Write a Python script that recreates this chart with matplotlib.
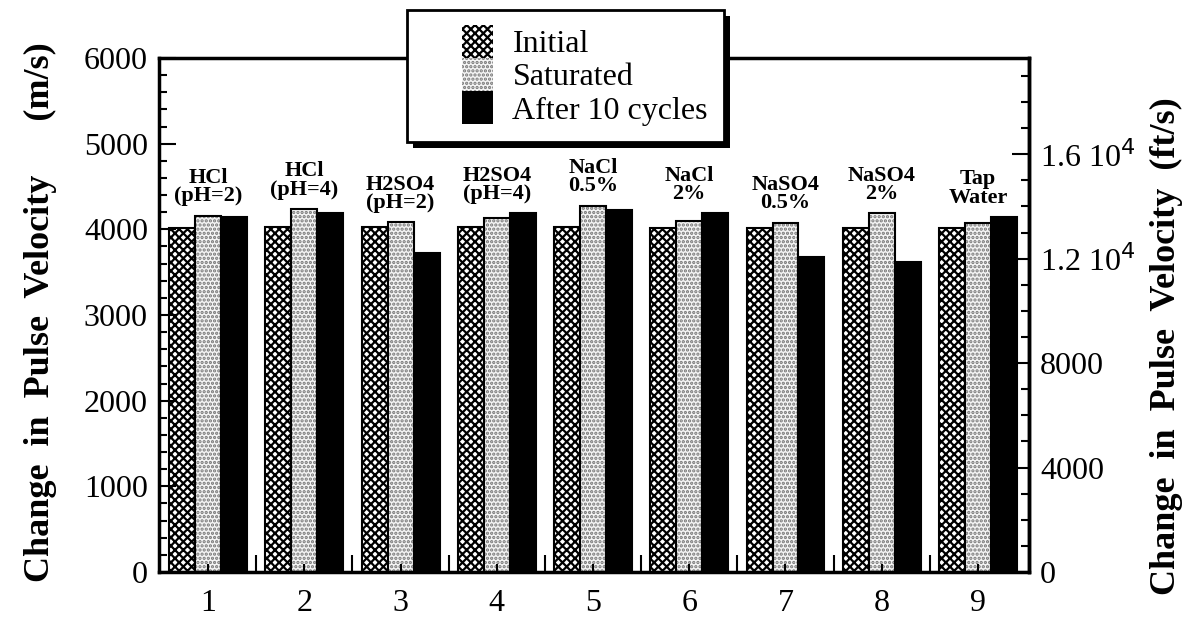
import numpy as np
import matplotlib
matplotlib.use('Agg')
import matplotlib.pyplot as plt
from matplotlib.patches import Patch, Rectangle
from matplotlib.legend_handler import HandlerPatch
from matplotlib.ticker import MultipleLocator, FixedLocator, FuncFormatter

plt.rcParams['font.family'] = ['Liberation Serif', 'DejaVu Serif']
plt.rcParams['hatch.linewidth'] = 1.6

# 数据 (m/s)
groups = [1, 2, 3, 4, 5, 6, 7, 8, 9]
group_labels = ['HCl\n(pH=2)', 'HCl\n(pH=4)', 'H2SO4\n(pH=2)', 'H2SO4\n(pH=4)',
                'NaCl\n0.5%', 'NaCl\n2%', 'NaSO4\n0.5%', 'NaSO4\n2%', 'Tap\nWater']
initial = [4020, 4030, 4030, 4030, 4030, 4020, 4020, 4020, 4020]
saturated = [4160, 4235, 4080, 4130, 4275, 4100, 4075, 4185, 4075]
after10 = [4140, 4190, 3720, 4185, 4225, 4185, 3680, 3620, 4140]
series_names = ['Initial', 'Saturated', 'After 10 cycles']

M2FT = 3.2808

fig = plt.figure(figsize=(11.99, 6.26), dpi=100)
ax = fig.add_axes([0.1326, 0.0863, 0.7256, 0.8211])

x = np.array(groups, dtype=float)
w = 0.27

# Initial: 交叉网格
ax.bar(x - w, initial, w, facecolor='white', edgecolor='black', hatch='xxxx', linewidth=0)
ax.bar(x - w, initial, w, fill=False, edgecolor='black', linewidth=1.5)
# Saturated: 点状
ax.bar(x, saturated, w, facecolor='#f4f4f4', edgecolor='#777777', hatch='....', linewidth=0)
ax.bar(x, saturated, w, fill=False, edgecolor='black', linewidth=1.5)
# After 10 cycles: 实心黑
ax.bar(x + w, after10, w, color='black', edgecolor='black', linewidth=1.5)

# 组标签
tops = np.maximum.reduce([initial, saturated, after10])
for xi, top, lab in zip(x, tops, group_labels):
    ax.text(xi, top + 110, lab, ha='center', va='bottom', fontsize=16,
            fontweight='bold', linespacing=0.9)

ax.set_xlim(0.49, 9.53)
ax.set_ylim(0, 6000)
ax.set_xticks(groups)
ax.xaxis.set_minor_locator(FixedLocator(np.arange(1.5, 9.0, 1.0)))
ax.yaxis.set_major_locator(MultipleLocator(1000))
ax.yaxis.set_minor_locator(MultipleLocator(200))
ax.tick_params(axis='both', which='both', direction='in', labelsize=23, width=1.5)
ax.tick_params(axis='y', which='major', length=12, pad=8)
ax.tick_params(axis='y', which='minor', length=6)
ax.tick_params(axis='x', which='major', length=6, pad=12)
ax.tick_params(axis='x', which='minor', length=12)
ax.tick_params(axis='y', right=False)
ax.xaxis.get_offset_text().set_visible(False)
for s in ax.spines.values():
    s.set_linewidth(2.5)

# 右轴 (ft/s)
sec = ax.secondary_yaxis('right', functions=(lambda v: v * M2FT, lambda v: v / M2FT))
sec.yaxis.set_major_locator(MultipleLocator(4000))
sec.yaxis.set_minor_locator(MultipleLocator(1000))


def ft_fmt(v, pos):
    if v >= 10000:
        return r'%.1f 10$^4$' % (v / 10000)
    return '%d' % v


sec.yaxis.set_major_formatter(FuncFormatter(ft_fmt))
sec.tick_params(axis='y', which='both', direction='in', labelsize=23, width=1.5)
sec.tick_params(axis='y', which='major', length=12, pad=8)
sec.tick_params(axis='y', which='minor', length=6)
sec.spines['right'].set_linewidth(2.5)
sec.xaxis.get_offset_text().set_visible(False)

# 轴标题
fig.text(40 / 1199, 1 - 312 / 626, 'Change  in  Pulse  Velocity      (m/s)',
         rotation=90, ha='center', va='center', fontsize=26, fontweight='bold')
fig.text(1166 / 1199, 1 - 346 / 626, 'Change  in  Pulse  Velocity  (ft/s)',
         rotation=90, ha='center', va='center', fontsize=26, fontweight='bold')


# 图例: 色块靠右, 上下相连
class RightPatch(HandlerPatch):
    def __init__(self):
        super().__init__(patch_func=self.make)

    @staticmethod
    def make(legend, orig_handle, xdescent, ydescent, width, height, fontsize):
        return Rectangle((-xdescent + width * 0.55, -ydescent - 1), width * 0.45, height + 2)


handles = [Patch(facecolor='white', edgecolor='black', hatch='xxxx', linewidth=0),
           Patch(facecolor='#f4f4f4', edgecolor='#777777', hatch='....', linewidth=0),
           Patch(facecolor='black', edgecolor='black', linewidth=0)]
leg = fig.legend(handles, series_names, loc='upper left',
                 bbox_to_anchor=(407 / 1199, 1 - 10 / 626), fontsize=23,
                 labelspacing=0.0, handleheight=1.1, handlelength=2.2,
                 handletextpad=0.6, borderpad=0.5, borderaxespad=0, fancybox=False,
                 framealpha=1, handler_map={Patch: RightPatch()})
leg.get_frame().set_edgecolor('black')
leg.get_frame().set_linewidth(2)
leg.set_zorder(10)

# 阴影
fig.canvas.draw()
bb = leg.get_window_extent()
W, H = fig.bbox.width, fig.bbox.height
shadow = Rectangle(((bb.x0 + 6) / W, (bb.y0 - 6) / H), bb.width / W, bb.height / H,
                   transform=fig.transFigure, facecolor='black', edgecolor='none', zorder=9)
fig.patches.append(shadow)

fig.savefig('out.png', dpi=100)
